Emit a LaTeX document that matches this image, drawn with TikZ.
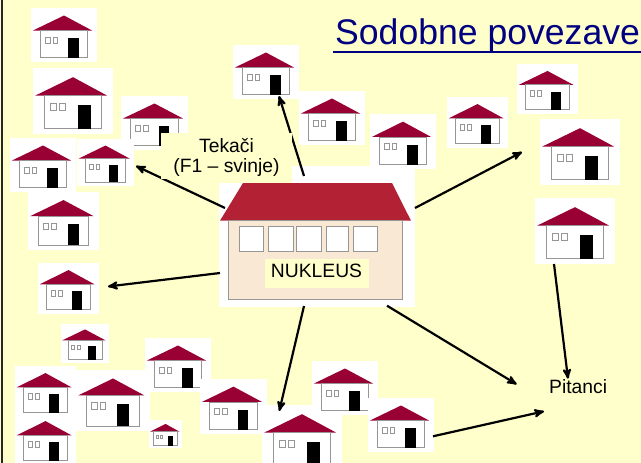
\documentclass[tikz,border=0pt]{standalone}
\usepackage{xcolor}
\usepackage{fontspec}
\setmainfont{Liberation Sans}
\usetikzlibrary{arrows}
\definecolor{paper}{HTML}{FFFFCC}
\definecolor{wine}{HTML}{990033}
\definecolor{brick}{HTML}{B22234}
\definecolor{wall}{HTML}{F8E8D4}
\definecolor{edge}{HTML}{969696}
\definecolor{navy}{HTML}{000080}
\tikzset{
	lot/.style={fill=white,inner sep=0pt,anchor=north west},
	label text/.style={font=\fontsize{19.3}{20}\selectfont,inner sep=0pt,align=center},
	link/.style={->,>=stealth',line width=2.2pt,black},
	pane/.style={draw=edge,fill=white,line width=0.8pt},
	house/.pic={
		\fill[wine] (33,7.5) -- (61,22.5) -- (2,22.5) -- cycle;
		\draw[edge,line width=0.8pt] (9.5,22.5) rectangle (56.5,49.5);
		\draw[pane] (14,29) rectangle (19,35);
		\draw[pane] (22,29) rectangle (26.5,35);
		\fill[black] (37,30) rectangle (47.5,49.8);
	}
}
\begin{document}
\begin{tikzpicture}[x=1pt,y=-1pt]
	\useasboundingbox (0,0) rectangle (641,463);
	\clip (0,0) rectangle (641,463);
	\fill[paper] (0,0) rectangle (641,463);
	\fill[black!85] (1,0) rectangle (3,463);
	% houses: name/left/top/width/height
	\foreach \n/\x/\y/\w/\h in {1/31/8/66/54,2/33/68/80/66,3/121/96/67/54,4/10/138/66/54,
		5/77/139/57/47,6/28/192/71/58,7/233/45/66/54,8/299/91/66/54,9/370/114/66/55,
		10/447/97/61/51,11/517/64/61/50,12/540/119/80/66,13/535/198/80/66,14/38/263/61/51,
		15/61/324/48/39,16/145/338/66/54,17/15/366/61/51,18/76/370/74/61,19/15/414/61/51,
		20/149/420/33/28,21/200/379/67/55,22/262/405/80/66,23/312/361/66/54,24/368/398/66/54}{
		\node[lot,minimum width=\w pt,minimum height=\h pt] (h\n) at (\x,\y) {};
		\pic[xscale=\w/66,yscale=\h/54] at (h\n.north west) {house};
	}
	\fill[white] (292,166) rectangle (415,183);
	\node[lot,minimum width=196pt,minimum height=124pt] (lotN) at (219,183) {};
	% free ends of the links
	\coordinate (s1) at (225,208);
	\coordinate (e1) at (136,166);
	\coordinate (s2) at (304,176);
	\coordinate (e2) at (279,96);
	\coordinate (s3) at (415,208);
	\coordinate (e3) at (522,152);
	\coordinate (s4) at (220,273);
	\coordinate (e4) at (108,286.5);
	\coordinate (s5) at (304,306);
	\coordinate (e5) at (279.3,411);
	\coordinate (s6) at (387,305.7);
	\coordinate (e6) at (516.7,384.3);
	\coordinate (s7) at (554,264);
	\coordinate (e7) at (568,378.7);
	\coordinate (s8) at (433,436.3);
	\coordinate (e8) at (544,411.3);
	\foreach \i in {1,...,8}
		\draw[link] (s\i) -- (e\i);
	\node[fill=paper,minimum width=131pt,minimum height=46pt,inner sep=0pt] (tek) at (226.5,156) {};
	\node[label text] (tekaci) at (226.5,157) {Tekači\\(F1 – svinje)};
	% nucleus building
	\fill[brick] (243,183) -- (392,183) -- (411,220.7) -- (220,220.7) -- cycle;
	\draw[edge,fill=wall,line width=0.8pt] (228,220.7) rectangle (402.7,299.3);
	\foreach \a/\b in {239.3/263.7,268.3/293,296.7/321.7,326.3/348.7,353.3/377}
		\draw[pane] (\a,226) rectangle (\b,251);
	\node[fill=paper,minimum width=104pt,minimum height=29pt,inner sep=0pt] (nukPatch) at (317,273.5) {};
	\node[label text,anchor=base] (nukleus) at (316.5,277.7) {NUKLEUS};
	\node[label text,anchor=base west] (pitanci) at (549,393.7) {Pitanci};
	\node[font=\fontsize{35.6}{40}\selectfont,text=navy,inner sep=0pt,anchor=base west] (title) at (335,45) {Sodobne povezave};
	\draw[navy,line width=2pt] ([yshift=-6.7pt,xshift=-2pt]title.base west) -- ([yshift=-6.7pt,xshift=2pt]title.base east);
\end{tikzpicture}
\end{document}
